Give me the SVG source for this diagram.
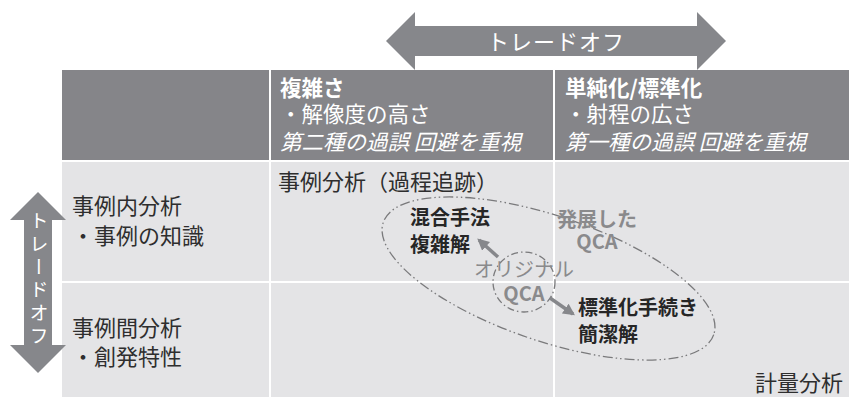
<svg xmlns="http://www.w3.org/2000/svg" width="849" height="397" viewBox="0 0 849 397">
<style>
text{font-family:"Noto Sans CJK JP","Noto Sans",sans-serif;}
.hd{fill:#ffffff;font-size:21.5px;}
.b{font-weight:bold;}
.it{font-style:italic;}
.lbl{fill:#2e2e2e;font-size:22px;}
.gry{fill:#8a8a8c;font-size:20px;font-weight:bold;}
.dk{fill:#262626;font-size:20px;font-weight:bold;}
.arw{fill:#86878b;}
</style>
<defs>
<marker id="ah" viewBox="0 0 10 10" refX="8" refY="5" markerWidth="3.4" markerHeight="3.4" orient="auto"><path d="M0,0 L10,5 L0,10 z" fill="#86878b"/></marker>
</defs>
<rect width="849" height="397" fill="#ffffff"/>
<g id="table">
<rect x="62" y="70" width="787" height="91" fill="#858589"/>
<rect x="62" y="162" width="787" height="235" fill="#e4e4e6"/>
<line x1="270" y1="70" x2="270" y2="397" stroke="#ffffff" stroke-width="2"/>
<line x1="554" y1="70" x2="554" y2="397" stroke="#ffffff" stroke-width="2"/>
<line x1="62" y1="161" x2="849" y2="161" stroke="#ffffff" stroke-width="2"/>
<line x1="62" y1="282" x2="849" y2="282" stroke="#ffffff" stroke-width="2"/>
</g>
<g id="top-arrow">
<polygon class="arw" points="386,41 415,12 415,26 697,26 697,12 726,41 697,70 697,56 415,56 415,70"/>
<text x="556" y="50" text-anchor="middle" fill="#ffffff" font-size="22" letter-spacing="1">トレードオフ</text>
</g>
<g id="left-arrow">
<polygon class="arw" points="38,192 66,220 52,220 52,345 66,345 38,373 10,345 24,345 24,220 10,220"/>
<text x="39" y="211" fill="#ffffff" font-size="19" letter-spacing="4" style="writing-mode:vertical-rl">トレードオフ</text>
</g>
<g id="header-complex">
<text class="hd b" x="280" y="96">複雑さ</text>
<text class="hd" x="280" y="122">・解像度の高さ</text>
<text class="hd it" x="280" y="150">第二種の過誤 回避を重視</text>
</g>
<g id="header-simple">
<text class="hd b" x="565" y="96">単純化/標準化</text>
<text class="hd" x="565" y="122">・射程の広さ</text>
<text class="hd it" x="565" y="150">第一種の過誤 回避を重視</text>
</g>
<g id="row-within">
<text class="lbl" x="72" y="214">事例内分析</text>
<text class="lbl" x="72" y="244">・事例の知識</text>
</g>
<g id="row-between">
<text class="lbl" x="72" y="336">事例間分析</text>
<text class="lbl" x="72" y="365">・創発特性</text>
</g>
<g id="case-analysis">
<text class="lbl" x="278" y="190">事例分析（過程追跡）</text>
</g>
<g id="quant-analysis">
<text class="lbl" x="755" y="391">計量分析</text>
</g>
<g id="developed-qca">
<ellipse cx="548.5" cy="278.5" rx="174.5" ry="62.5" transform="rotate(18.75 548.5 278.5)" fill="none" stroke="#7a7a7c" stroke-width="1.3" stroke-dasharray="10 3 1.5 3 1.5 3"/>
<text class="gry" x="597" y="227" text-anchor="middle">発展した</text>
<text class="gry" x="597" y="249" text-anchor="middle">QCA</text>
</g>
<g id="original-qca">
<ellipse cx="524" cy="282" rx="31" ry="30" fill="none" stroke="#7a7a7c" stroke-width="1.3" stroke-dasharray="7 3 1.5 3"/>
<text x="524" y="277" text-anchor="middle" fill="#8a8a8c" font-size="20">オリジナル</text>
<text class="gry" x="524" y="301" text-anchor="middle">QCA</text>
</g>
<g id="mixed-method">
<text class="dk" x="410" y="225">混合手法</text>
<text class="dk" x="410" y="252">複雑解</text>
</g>
<g id="standard-proc">
<text class="dk" x="578" y="315">標準化手続き</text>
<text class="dk" x="578" y="342">簡潔解</text>
</g>
<g id="connectors">
<line x1="498" y1="257" x2="479" y2="240" stroke="#86878b" stroke-width="3.5" marker-end="url(#ah)"/>
<line x1="550" y1="298" x2="573" y2="314" stroke="#86878b" stroke-width="3.5" marker-end="url(#ah)"/>
</g>
</svg>
